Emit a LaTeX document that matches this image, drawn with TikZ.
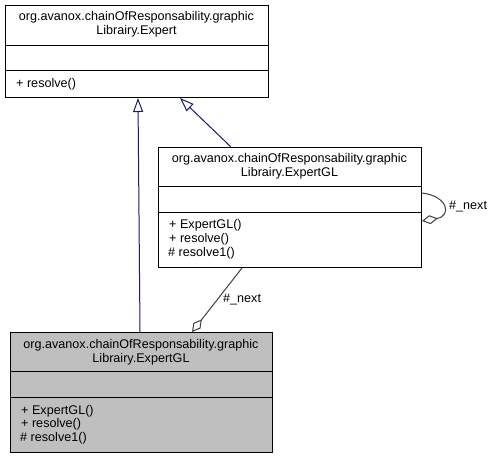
\documentclass[tikz,border=0pt]{standalone}
\usepackage{fontspec}
\setmainfont{Liberation Sans}
\usetikzlibrary{arrows.meta}
\definecolor{edgeblue}{HTML}{191970}
\definecolor{aggr}{HTML}{404040}
\definecolor{grayfill}{HTML}{BFBFBF}
\tikzset{
  classbox/.style={draw=black, line width=1pt, rectangle, inner sep=0pt, anchor=north west},
  sep/.style={draw=black, line width=1pt},
  txt/.style={anchor=base, inner sep=0pt, font=\fontsize{12.6}{14}\selectfont},
  ltxt/.style={anchor=base west, inner sep=0pt, font=\fontsize{12.6}{14}\selectfont},
  gen/.style={draw=edgeblue, line width=1pt, -{Triangle[open, length=14pt, width=10pt]}},
  agg/.style={draw=aggr, line width=1pt, -{Diamond[open, length=16pt, width=9pt]}}
}
\begin{document}
\begin{tikzpicture}[x=1pt, y=-1pt]
\useasboundingbox[fill=white] (0,0) rectangle (495,457);
% Expert
\node[classbox, minimum width=263pt, minimum height=92pt] (expert) at (5,5) {};
\draw[sep] (5,46) -- (268,46);
\draw[sep] (5,71) -- (268,71);
\node[txt] (e1) at (136.5,21) {org.avanox.chainOfResponsability.graphic};
\node[txt] (e2) at (136.5,35) {Librairy.Expert};
\node[ltxt] (e3) at (16,88) {+ resolve()};
% ExpertGL (right)
\node[classbox, minimum width=263pt, minimum height=120pt] (gl) at (158,147) {};
\draw[sep] (158,187) -- (421,187);
\draw[sep] (158,212) -- (421,212);
\node[txt] (g1) at (289.5,163) {org.avanox.chainOfResponsability.graphic};
\node[txt] (g2) at (289.5,177) {Librairy.ExpertGL};
\node[ltxt] (g3) at (169,229) {+ ExpertGL()};
\node[ltxt] (g4) at (169,242.5) {+ resolve()};
\node[ltxt] (g5) at (168,256) {\# resolve1()};
% ExpertGL (gray)
\node[classbox, fill=grayfill, minimum width=262pt, minimum height=120pt] (gray) at (10,332) {};
\draw[sep] (10,371) -- (272,371);
\draw[sep] (10,397) -- (272,397);
\node[txt] (k1) at (141,348) {org.avanox.chainOfResponsability.graphic};
\node[txt] (k2) at (141,362) {Librairy.ExpertGL};
\node[ltxt] (k3) at (21,414) {+ ExpertGL()};
\node[ltxt] (k4) at (21,427.5) {+ resolve()};
\node[ltxt] (k5) at (20,441) {\# resolve1()};
% generalizations
\draw[gen] ([xshift=130pt]gray.north west) -- ([xshift=133pt]expert.south west);
\draw[gen] ([xshift=73pt]gl.north west) -- ([xshift=175pt]expert.south west);
% aggregations
\draw[agg] ([xshift=84pt]gl.south west) -- ([xshift=182pt]gray.north west);
\node[ltxt] (l1) at (223,302) {\#\_next};
\draw[agg] ([yshift=-46pt]gl.north east) .. controls (448,196) and (452,216) .. ([yshift=-74pt]gl.north east);
\node[ltxt] (l2) at (449,210) {\#\_next};
\end{tikzpicture}
\end{document}
